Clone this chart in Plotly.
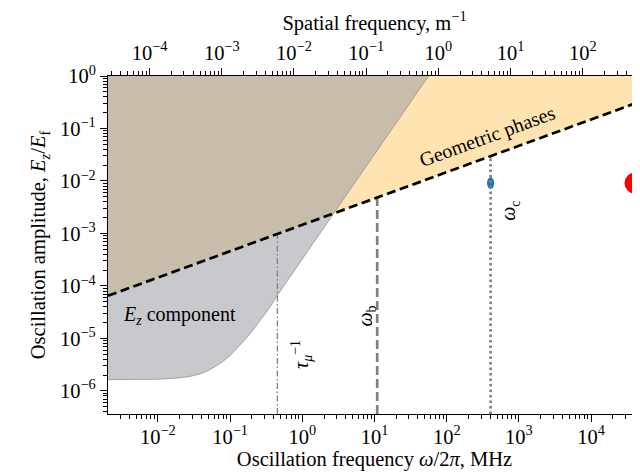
import numpy as np
import plotly.graph_objects as go

# ---------------- data ----------------
# axis limits (data units)
f_min, f_max = 10 ** -2.69, 10 ** 4.69          # MHz
amp_min, amp_max = 10 ** -6.44, 1.0
spatial_per_MHz = 10 ** -1.885                 # m^-1 per MHz (top axis)

# geometric-phase boundary (dashed line)
geo_f = [f_min, f_max]
geo_amp = [6.5e-5, 0.33]

# E_z component boundary
ez_f = [f_min, 0.01, 0.02, 0.03, 0.04, 0.05, 0.065, 0.08, 0.1, 0.13, 0.17,
        0.22, 0.28, 0.35, 0.45, 0.6, 0.8, 1.0, 1.5, 2.5, 5.0, 10.0, 20.0, 56.0]
ez_amp = [1.64e-6, 1.67e-6, 1.77e-6, 1.93e-6, 2.15e-6, 2.44e-6, 3.0e-6, 3.65e-6,
          4.7e-6, 6.9e-6, 1.03e-5, 1.6e-5, 2.5e-5, 3.8e-5, 6.6e-5, 1.18e-4,
          2.08e-4, 3.24e-4, 7.3e-4, 2.03e-3, 8.1e-3, 3.24e-2, 0.13, 1.0]

# characteristic frequencies (MHz) and the amplitude where each line stops
tau_f, tau_top = 0.452, 9.8e-4
wb_f, wb_top = 10.9, 4.85e-3
wc_f, wc_top = 405.0, 0.0299

# measured points
blue_f, blue_amp = 405.0, 9.1e-3
red_f, red_amp = 4.04e4, 9.1e-3

xtick_vals = [1e-2, 1e-1, 1e0, 1e1, 1e2, 1e3, 1e4]
xtick_text = ["10<sup>−2</sup>", "10<sup>−1</sup>", "10<sup>0</sup>", "10<sup>1</sup>",
              "10<sup>2</sup>", "10<sup>3</sup>", "10<sup>4</sup>"]
x2tick_vals = [1e-4, 1e-3, 1e-2, 1e-1, 1e0, 1e1, 1e2]
x2tick_text = ["10<sup>−4</sup>", "10<sup>−3</sup>", "10<sup>−2</sup>", "10<sup>−1</sup>",
               "10<sup>0</sup>", "10<sup>1</sup>", "10<sup>2</sup>"]
ytick_vals = [1e-6, 1e-5, 1e-4, 1e-3, 1e-2, 1e-1, 1e0]
ytick_text = ["10<sup>−6</sup>", "10<sup>−5</sup>", "10<sup>−4</sup>", "10<sup>−3</sup>",
              "10<sup>−2</sup>", "10<sup>−1</sup>", "10<sup>0</sup>"]

FONT = "Liberation Serif"
FS = 20.5
GRAY = "rgb(128,128,128)"


def minor_vals(lo, hi):
    return [m * 10.0 ** e for e in range(lo, hi) for m in range(2, 10)]


fig = go.Figure()

# orange region above the geometric-phase line
fig.add_trace(go.Scatter(
    x=geo_f + [geo_f[-1], geo_f[0]], y=geo_amp + [amp_max, amp_max],
    fill="toself", fillcolor="rgba(255,165,0,0.3)", mode="lines",
    line=dict(width=0), hoverinfo="skip"))

# gray region above the E_z curve
fig.add_trace(go.Scatter(
    x=ez_f + [ez_f[0]], y=ez_amp + [amp_max],
    fill="toself", fillcolor="rgba(157,159,166,0.56)", mode="lines",
    line=dict(width=0), hoverinfo="skip"))

# thin boundary of E_z curve
fig.add_trace(go.Scatter(
    x=ez_f, y=ez_amp, mode="lines",
    line=dict(color="rgba(140,140,140,0.9)", width=0.8), hoverinfo="skip"))

# vertical characteristic-frequency lines
fig.add_trace(go.Scatter(
    x=[tau_f, tau_f], y=[amp_min, tau_top], mode="lines",
    line=dict(color=GRAY, width=1.3, dash="6px,2.5px,1.5px,2.5px")))
fig.add_trace(go.Scatter(
    x=[wb_f, wb_f], y=[amp_min, wb_top], mode="lines",
    line=dict(color=GRAY, width=2.7, dash="9px,4px")))

# geometric-phase dashed line
fig.add_trace(go.Scatter(
    x=geo_f, y=geo_amp, mode="lines",
    line=dict(color="black", width=2.7, dash="9px,4.5px")))

# blue ellipse in data coordinates (half sizes in decades are style)
fig.add_shape(type="circle", xref="x", yref="y",
              x0=blue_f / 10 ** 0.05, x1=blue_f * 10 ** 0.05,
              y0=blue_amp / 10 ** 0.114, y1=blue_amp * 10 ** 0.114,
              fillcolor="rgb(31,119,180)", line=dict(width=0), layer="below")

# red blob (marker, clipped by the plot frame)
fig.add_trace(go.Scatter(
    x=[red_f], y=[red_amp], mode="markers", cliponaxis=True,
    marker=dict(color="rgb(255,0,0)", size=21, symbol="circle", line=dict(width=0)),
    hoverinfo="skip"))

fig.add_trace(go.Scatter(
    x=[wc_f, wc_f], y=[amp_min, wc_top], mode="lines",
    line=dict(color=GRAY, width=2.7, dash="2.5px,3px")))

# invisible trace for top axis
fig.add_trace(go.Scatter(
    x=[f * spatial_per_MHz for f in geo_f], y=geo_amp, xaxis="x2", mode="markers",
    marker=dict(opacity=0), hoverinfo="skip"))

ann_font = dict(family=FONT, size=20, color="black")
fig.add_annotation(x=np.log10(0.0031), y=np.log10(2.7e-5), text="<i>E<sub>z</sub></i> component",
                   showarrow=False, xanchor="left", yanchor="middle", font=ann_font)
fig.add_annotation(x=np.log10(372), y=np.log10(0.069), text="Geometric phases",
                   showarrow=False, textangle=-20, font=ann_font)
fig.add_annotation(x=np.log10(0.97), y=np.log10(4.9e-6), text="<i>τ</i><sub><i>μ</i></sub><sup>−1</sup>",
                   showarrow=False, textangle=-90, font=ann_font)
fig.add_annotation(x=np.log10(7.7), y=np.log10(2.65e-5), text="<i>ω</i><sub>b</sub>",
                   showarrow=False, textangle=-90, font=ann_font)
fig.add_annotation(x=np.log10(743), y=np.log10(2.65e-3), text="<i>ω</i><sub>c</sub>",
                   showarrow=False, textangle=-90, font=ann_font)


def axis_common(lo, hi):
    return dict(type="log", showgrid=False, zeroline=False, ticks="outside",
                ticklen=7, tickwidth=1, tickcolor="black", automargin=False,
                tickfont=dict(family=FONT, size=FS, color="black"),
                minor=dict(tickmode="array", tickvals=minor_vals(lo, hi),
                           ticks="outside", ticklen=4, tickwidth=0.8, tickcolor="black",
                           showgrid=False))


fig.update_layout(
    width=640, height=472, showlegend=False,
    margin=dict(l=100, r=7, t=68, b=66),
    plot_bgcolor="white", paper_bgcolor="white",
    font=dict(family=FONT, size=FS, color="black"),
    xaxis=dict(range=[np.log10(f_min), np.log10(f_max)], tickmode="array",
               tickvals=xtick_vals, ticktext=xtick_text, ticklabelstandoff=-3,
               showline=True, linecolor="black", linewidth=1.2, mirror=True,
               title=dict(text="Oscillation frequency <i>ω</i>/2<i>π</i>, MHz",
                          font=dict(family=FONT, size=FS), standoff=2),
               **axis_common(-3, 5)),
    xaxis2=dict(overlaying="x", side="top",
                range=[np.log10(f_min * spatial_per_MHz), np.log10(f_max * spatial_per_MHz)],
                tickmode="array", tickvals=x2tick_vals, ticktext=x2tick_text,
                showline=False,
                title=dict(text="Spatial frequency, m<sup>−1</sup>",
                           font=dict(family=FONT, size=FS), standoff=2),
                **axis_common(-5, 3)),
    yaxis=dict(range=[np.log10(amp_min), np.log10(amp_max)], tickmode="array",
               tickvals=ytick_vals, ticktext=ytick_text,
               showline=True, linecolor="black", linewidth=1.2, mirror=True,
               title=dict(text="Oscillation amplitude, <i>E<sub>z</sub></i>/<i>E</i><sub>f</sub>",
                          font=dict(family=FONT, size=FS), standoff=8),
               **axis_common(-7, 0)),
)

fig.write_html("out.html")
